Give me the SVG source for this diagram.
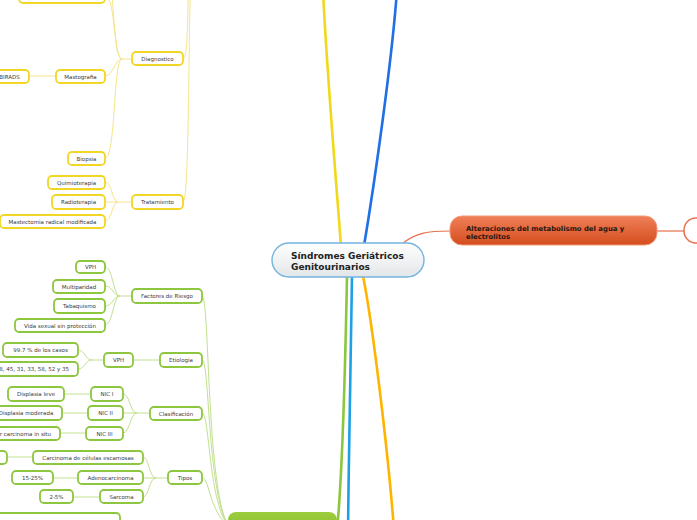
<svg xmlns="http://www.w3.org/2000/svg" width="697" height="520" viewBox="0 0 697 520">
<defs>
<linearGradient id="gCenter" x1="0" y1="0" x2="0" y2="1"><stop offset="0" stop-color="#ffffff"/><stop offset="1" stop-color="#e3e6e8"/></linearGradient>
<linearGradient id="gRed" x1="0" y1="0" x2="0" y2="1"><stop offset="0" stop-color="#f08058"/><stop offset="1" stop-color="#d44d1e"/></linearGradient>
<linearGradient id="gGreen" x1="0" y1="0" x2="0" y2="1"><stop offset="0" stop-color="#9ccd3e"/><stop offset="1" stop-color="#80b52a"/></linearGradient>
<style>
.ny rect{fill:#fff;stroke:#f2d626;stroke-width:1.8}
.ng rect{fill:#fff;stroke:#8dc63f;stroke-width:1.8}
.t{font-family:"DejaVu Sans",Verdana,sans-serif;font-size:5.5px;fill:#3a3a3a;text-anchor:middle}
.cy{fill:none;stroke:#f5e68a;stroke-width:1}
.cg{fill:none;stroke:#c2e08f;stroke-width:1}
.main{fill:none;stroke-width:2.6;stroke-linecap:round}
</style>
</defs>
<rect width="697" height="520" fill="#fff"/>
<g id="connectors">
<path class="main" stroke="#f0d81a" d="M341,246 C336,180 326,60 323,-10"/>
<path class="main" stroke="#1f6fe5" d="M364,246 C375,180 392,60 397,-10"/>
<path class="main" stroke="#8cc63f" d="M347,276 C345,380 342,480 337,530"/>
<path class="main" stroke="#1ea0e6" d="M352,276 C350,380 349,450 348,530"/>
<path class="main" stroke="#ffb400" d="M363,276 C372,320 388,450 394,530"/>
<path fill="none" stroke="#e8704e" stroke-width="1.2" d="M402,244 C415,233 428,231 450,231"/>
<path fill="none" stroke="#e8704e" stroke-width="1.2" d="M657,231 L684,231"/>
<!-- yellow -->
<path class="cy" d="M183,59 C189,59 187,0 190,-60"/>
<path class="cy" d="M183,202 C190,202 188,0 192,-60"/>
<path class="cy" d="M132,59 L122,59 C113,59 116,-4 105,-4"/>
<path class="cy" d="M122,59 C112,59 114,-40 105,-40"/>
<path class="cy" d="M122,59 C114,59 114,76 105,76"/>
<path class="cy" d="M122,59 C113,59 116,158 105,158"/>
<path class="cy" d="M56,76 L29,76"/>
<path class="cy" d="M132,202 L118,202 C112,202 112,182 105,182"/>
<path class="cy" d="M118,202 L105,202"/>
<path class="cy" d="M118,202 C112,202 112,221 105,221"/>
<!-- green -->
<path class="cg" d="M202,296 C210,296 206,500 230,528"/>
<path class="cg" d="M202,360 C210,360 207,500 230,528"/>
<path class="cg" d="M202,413 C210,413 208,505 230,528"/>
<path class="cg" d="M202,478 C210,478 208,510 230,528"/>
<path class="cg" d="M120,526 C160,526 200,526 230,530"/>
<path class="cg" d="M132,296 L120,296 C113,296 113,267 105,267"/>
<path class="cg" d="M120,296 C113,296 113,286 105,286"/>
<path class="cg" d="M120,296 C113,296 113,306 105,306"/>
<path class="cg" d="M120,296 C113,296 113,325 105,325"/>
<path class="cg" d="M160,360 L133,360"/>
<path class="cg" d="M104,360 L92,360 C85,360 85,350 78,350"/>
<path class="cg" d="M92,360 C85,360 85,369 78,369"/>
<path class="cg" d="M150,413 L137,413 C130,413 130,394 123,394"/>
<path class="cg" d="M137,413 L123,413"/>
<path class="cg" d="M137,413 C130,413 130,433 123,433"/>
<path class="cg" d="M91,394 L64,394"/>
<path class="cg" d="M88,413 L62,413"/>
<path class="cg" d="M86,433 L60,433"/>
<path class="cg" d="M168,478 L156,478 C149,478 149,457 143,457"/>
<path class="cg" d="M156,478 L143,478"/>
<path class="cg" d="M156,478 C149,478 149,497 143,497"/>
<path class="cg" d="M33,457 L7,457"/>
<path class="cg" d="M78,478 L53,478"/>
<path class="cg" d="M100,497 L73,497"/>
</g>
<g id="center">
<rect x="272" y="243" width="152" height="34" rx="17" fill="url(#gCenter)" stroke="#74b4df" stroke-width="1.4"/>
<text font-family="'DejaVu Sans',Verdana,sans-serif" font-size="9" font-weight="bold" fill="#222"><tspan x="291" y="259">Síndromes Geriátricos</tspan><tspan x="291" y="270">Genitourinarios</tspan></text>
</g>
<g id="alteraciones">
<rect x="450" y="216" width="207" height="29" rx="12" fill="url(#gRed)" stroke="#f29a78" stroke-width="1"/>
<text font-family="'DejaVu Sans',Verdana,sans-serif" font-size="6.9" font-weight="bold" fill="#2a160f"><tspan x="466" y="230.5">Alteraciones del metabolismo del agua y</tspan><tspan x="466" y="238.5">electrolitos</tspan></text>
</g>
<g id="alteraciones-child"><rect x="684" y="218" width="60" height="25" rx="12" fill="#fff" stroke="#e8704e" stroke-width="1.5"/></g>
<g id="green-main"><rect x="228" y="512" width="109" height="30" rx="8" fill="url(#gGreen)"/></g>

<g id="y-top" class="ny"><rect x="19" y="-12" width="86" height="15" rx="4"/></g>
<g id="diagnostico" class="ny"><rect x="132" y="52" width="51" height="13" rx="4"/><text class="t" x="157.5" y="60.5">Diagnostico</text></g>
<g id="mastografia" class="ny"><rect x="56" y="70" width="49" height="13" rx="4"/><text class="t" x="80.5" y="78.5">Mastografia</text></g>
<g id="birads" class="ny"><rect x="-10" y="70" width="39" height="13" rx="4"/><text class="t" x="9.5" y="78.5">BIRADS</text></g>
<g id="biopsia" class="ny"><rect x="68" y="152" width="37" height="13" rx="4"/><text class="t" x="86.5" y="160.5">Biopsia</text></g>
<g id="tratamiento" class="ny"><rect x="132" y="195" width="51" height="14" rx="4"/><text class="t" x="157.5" y="204">Tratamiento</text></g>
<g id="quimioterapia" class="ny"><rect x="48" y="176" width="57" height="13" rx="4"/><text class="t" x="76.5" y="184.5">Quimioterapia</text></g>
<g id="radioterapia" class="ny"><rect x="52" y="195" width="53" height="14" rx="4"/><text class="t" x="78.5" y="204">Radioterapia</text></g>
<g id="mastectomia" class="ny"><rect x="0" y="215" width="105" height="13" rx="4"/><text class="t" x="52.5" y="223.5">Mastectomia radical modificada</text></g>

<g id="factores" class="ng"><rect x="132" y="289" width="70" height="14" rx="4"/><text class="t" x="167" y="298">Factores de Riesgo</text></g>
<g id="vph1" class="ng"><rect x="76" y="261" width="29" height="12" rx="4"/><text class="t" x="90.5" y="269">VPH</text></g>
<g id="multiparidad" class="ng"><rect x="53" y="280" width="52" height="13" rx="4"/><text class="t" x="79" y="288.5">Multiparidad</text></g>
<g id="tabaquismo" class="ng"><rect x="54" y="299" width="51" height="14" rx="4"/><text class="t" x="79.5" y="308">Tabaquismo</text></g>
<g id="vida" class="ng"><rect x="15" y="319" width="90" height="13" rx="4"/><text class="t" x="60" y="327.5">Vida sexual sin protección</text></g>
<g id="etiologia" class="ng"><rect x="160" y="353" width="42" height="14" rx="4"/><text class="t" x="181" y="362">Etiologia</text></g>
<g id="vph2" class="ng"><rect x="104" y="353" width="29" height="14" rx="4"/><text class="t" x="118.5" y="362">VPH</text></g>
<g id="casos" class="ng"><rect x="3" y="343" width="75" height="14" rx="4"/><text class="t" x="40.5" y="352">99.7 % de los casos</text></g>
<g id="tipos-vph" class="ng"><rect x="-30" y="362" width="108" height="14" rx="4"/><text class="t" x="69" y="371" style="text-anchor:end">16, 18, 45, 31, 33, 58, 52 y 35</text></g>
<g id="clasificacion" class="ng"><rect x="150" y="407" width="52" height="13" rx="4"/><text class="t" x="176" y="415.5">Clasificación</text></g>
<g id="nic1" class="ng"><rect x="91" y="387" width="32" height="14" rx="4"/><text class="t" x="107" y="396">NIC I</text></g>
<g id="nic2" class="ng"><rect x="88" y="406" width="35" height="14" rx="4"/><text class="t" x="105.5" y="415">NIC II</text></g>
<g id="nic3" class="ng"><rect x="86" y="427" width="37" height="13" rx="4"/><text class="t" x="104.5" y="435.5">NIC III</text></g>
<g id="leve" class="ng"><rect x="8" y="387" width="56" height="14" rx="4"/><text class="t" x="36" y="396">Displasia leve</text></g>
<g id="moderada" class="ng"><rect x="-10" y="406" width="72" height="14" rx="4"/><text class="t" x="26" y="415">Displasia moderada</text></g>
<g id="insitu" class="ng"><rect x="-40" y="427" width="100" height="13" rx="4"/><text class="t" x="51" y="435.5" style="text-anchor:end">r carcinoma in situ</text></g>
<g id="tipos" class="ng"><rect x="168" y="471" width="34" height="13" rx="4"/><text class="t" x="185" y="479.5">Tipos</text></g>
<g id="escamosas" class="ng"><rect x="33" y="451" width="110" height="13" rx="4"/><text class="t" x="88" y="459.5">Carcinoma de células escamosas</text></g>
<g id="adeno" class="ng"><rect x="78" y="471" width="65" height="13" rx="4"/><text class="t" x="110.5" y="479.5">Adenocarcinoma</text></g>
<g id="sarcoma" class="ng"><rect x="100" y="490" width="43" height="13" rx="4"/><text class="t" x="121.5" y="498.5">Sarcoma</text></g>
<g id="esc-pct" class="ng"><rect x="-40" y="451" width="47" height="13" rx="4"/></g>
<g id="adeno-pct" class="ng"><rect x="12" y="471" width="41" height="13" rx="4"/><text class="t" x="32.5" y="479.5">15-25%</text></g>
<g id="sarcoma-pct" class="ng"><rect x="40" y="490" width="33" height="13" rx="4"/><text class="t" x="56.5" y="498.5">2-5%</text></g>
<g id="bottom-left" class="ng"><rect x="-5" y="513" width="125" height="20" rx="4"/></g>
</svg>
